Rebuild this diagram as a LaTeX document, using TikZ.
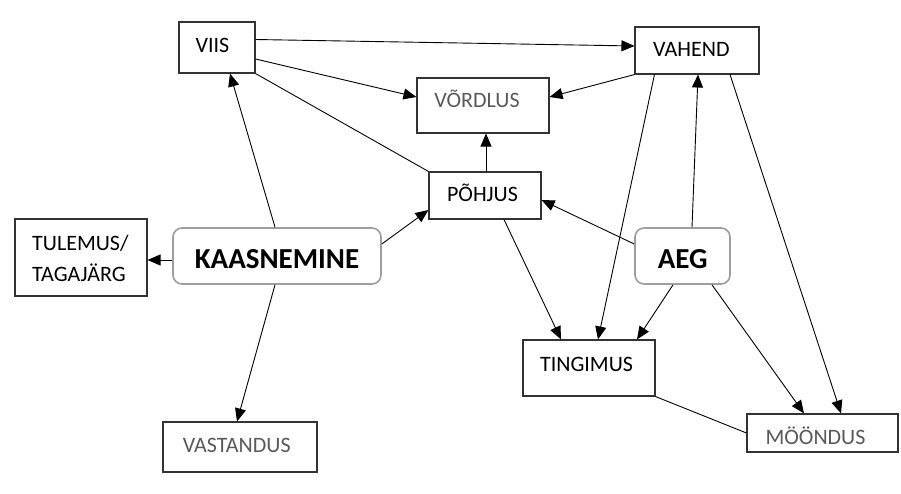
\documentclass[tikz,border=0pt]{standalone}
\usepackage{fontspec}
\setmainfont{Carlito}
\usetikzlibrary{arrows.meta,calc}
\begin{document}
\begin{tikzpicture}[x=1pt,y=-1pt,
  box/.style={draw=black!80, line width=1.1pt, rectangle, inner sep=0pt},
  rbox/.style={draw=black!38, line width=1.6pt, rectangle, rounded corners=9pt, inner sep=0pt},
  lbl/.style={font=\fontsize{22}{26}\selectfont, anchor=base, inner sep=0pt, text=black},
  glbl/.style={lbl, text=black!65},
  blbl/.style={font=\fontsize{29}{34}\selectfont\bfseries, anchor=base, inner sep=0pt},
  arr/.style={line width=0.9pt, -{Triangle[length=13pt,width=11pt]}},
  ln/.style={line width=0.9pt}]
\useasboundingbox (0,0) rectangle (901,494);
% boxes
\node[box, minimum width=76pt, minimum height=51pt] (viis) at (217,47.5) {};
\node[box, minimum width=132pt, minimum height=55pt] (vordlus) at (483,105.5) {};
\node[box, minimum width=112pt, minimum height=47pt] (pohjus) at (485,195.5) {};
\node[box, minimum width=124pt, minimum height=47pt] (vahend) at (697,50.5) {};
\node[rbox, minimum width=208pt, minimum height=56pt] (kaas) at (277,256) {};
\node[box, minimum width=132pt, minimum height=77pt] (tul) at (81,257.5) {};
\node[box, minimum width=154pt, minimum height=50pt] (vast) at (240,447) {};
\node[rbox, minimum width=95pt, minimum height=56pt] (aeg) at (682.5,256) {};
\node[box, minimum width=132pt, minimum height=56pt] (ting) at (589,368) {};
\node[box, minimum width=151pt, minimum height=38pt] (moond) at (822.5,433) {};
% texts
\node[lbl] (tviis) at (212.5,52.3) {VIIS};
\node[lbl] (tvahend) at (691.4,56.7) {VAHEND};
\node[glbl] (tvord) at (477,108) {VÕRDLUS};
\node[lbl] (tpohj) at (482.5,202) {PÕHJUS};
\node[lbl, anchor=base west] (tulA) at (32,250) {TULEMUS/};
\node[lbl, anchor=base west] (tulB) at (32,281) {TAGAJÄRG};
\node[blbl] (tkaas) at (277,268) {KAASNEMINE};
\node[glbl] (tvast) at (236.7,452) {VASTANDUS};
\node[blbl] (taeg) at (682.7,268) {AEG};
\node[lbl] (tting) at (586.5,371) {TINGIMUS};
\node[glbl] (tmoond) at (815.5,444) {MÖÖNDUS};
% connectors
\draw[arr] ($(viis.east)+(0,-8)$) -- ($(vahend.west)+(0,-4.5)$);
\draw[arr] ($(viis.east)+(0,11.5)$) -- ($(vordlus.west)+(0,-8.5)$);
\draw[ln] (viis.south east) -- (pohjus.north west);
\draw[arr] ($(kaas.north)+(-2,0)$) -- ($(viis.south)+(13,0)$);
\draw[arr] ($(kaas.east)+(0,-12)$) -- ($(pohjus.west)+(0,14.5)$);
\draw[arr] ($(kaas.west)+(0,4)$) -- ($(tul.east)+(0,2.5)$);
\draw[arr] ($(kaas.south)+(-2,0)$) -- ($(vast.north)+(-3,0)$);
\draw[arr] ($(pohjus.north)+(1,0)$) -- ($(vordlus.south)+(3,0)$);
\draw[arr] (vahend.south west) -- ($(vordlus.east)+(0,-8.5)$);
\draw[arr] ($(vahend.south west)+(20,0)$) -- ($(ting.north)+(9,0)$);
\draw[arr] ($(aeg.north)+(9.5,0)$) -- ($(vahend.south)+(1,0)$);
\draw[arr] ($(vahend.south)+(33,0)$) -- ($(moond.north)+(18.5,0)$);
\draw[arr] ($(aeg.west)+(0,-12)$) -- ($(pohjus.east)+(0,4.5)$);
\draw[arr] ($(pohjus.south)+(19,0)$) -- ($(ting.north)+(-28,0)$);
\draw[arr] ($(aeg.south)+(-9.5,0)$) -- ($(ting.north)+(48,0)$);
\draw[arr] ($(aeg.south)+(29.5,0)$) -- ($(moond.north)+(-18.5,0)$);
\draw[ln] (ting.south east) -- (moond.west);
\end{tikzpicture}
\end{document}
